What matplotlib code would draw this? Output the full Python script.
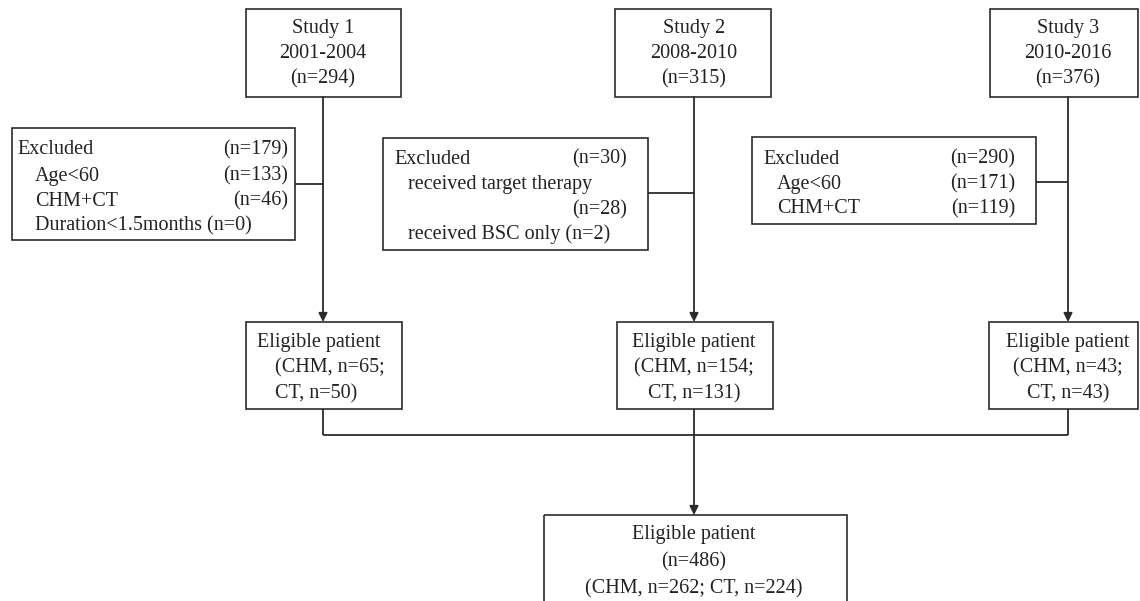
import matplotlib.pyplot as plt
from matplotlib.patches import Rectangle

plt.rcParams['font.family'] = ['Liberation Serif', 'DejaVu Serif']

# Data
study_names = ['Study 1', 'Study 2', 'Study 3']
study_years = ['2001-2004', '2008-2010', '2010-2016']
study_n = [294, 315, 376]
excl_total = [179, 30, 290]
excl1_reasons = ['Age<60', 'CHM+CT', 'Duration<1.5months']
excl1_n = [133, 46, 0]
excl2_reasons = ['received target therapy', 'received BSC only']
excl2_n = [28, 2]
excl3_reasons = ['Age<60', 'CHM+CT']
excl3_n = [171, 119]
elig_chm = [65, 154, 43]
elig_ct = [50, 131, 43]
total_n = 486
total_chm = 262
total_ct = 224

FS = 14.5
LC = '#2b2b2b'
LW = 1.3

fig = plt.figure(figsize=(11.4, 6.01), dpi=100)
ax = fig.add_axes([0, 0, 1, 1])
ax.set_xlim(0, 1140)
ax.set_ylim(601, 0)
ax.axis('off')


def box(x0, y0, x1, y1):
    ax.add_patch(Rectangle((x0, y0), x1 - x0, y1 - y0, fill=False,
                           edgecolor=LC, linewidth=1.2))


def line(xs, ys):
    ax.plot(xs, ys, color=LC, linewidth=LW, solid_capstyle='butt')


def arrow(x, y0, y1):
    ax.annotate('', xy=(x, y1), xytext=(x, y0),
                arrowprops=dict(arrowstyle='-|>', color=LC, lw=LW,
                                mutation_scale=13, shrinkA=0, shrinkB=0))


def txt(x, y, s, ha='center'):
    # small downward nudge so the glyphs sit like the reference
    ax.text(x, y + 2, s, fontsize=FS, ha=ha, va='center', color='#222222')


# columns
cx = [323, 694, 1068]
study_box = [(246, 401), (615, 771), (990, 1138)]
elig_box = [(246, 402), (617, 773), (989, 1138)]

for i in range(3):
    x0, x1 = study_box[i]
    box(x0, 9, x1, 97)
    txt(cx[i], 27, study_names[i])
    txt(cx[i], 52, study_years[i])
    txt(cx[i], 77, '(n=%d)' % study_n[i])
    arrow(cx[i], 97, 322)
    e0, e1 = elig_box[i]
    box(e0, 322, e1, 409)
    line([cx[i], cx[i]], [409, 435])

# eligible texts
txt(257, 341, 'Eligible patient', ha='left')
txt(275, 366, '(CHM, n=%d;' % elig_chm[0], ha='left')
txt(275, 392, 'CT, n=%d)' % elig_ct[0], ha='left')
for i in (1, 2):
    txt(cx[i], 341, 'Eligible patient')
    txt(cx[i], 366, '(CHM, n=%d;' % elig_chm[i])
    txt(cx[i], 392, 'CT, n=%d)' % elig_ct[i])

# excluded 1
box(12, 128, 295, 240)
line([295, cx[0]], [184, 184])
txt(17, 148, 'Excluded', ha='left')
txt(288, 148, '(n=%d)' % excl_total[0], ha='right')
ys = [174, 199, 224]
for k in range(2):
    txt(35, ys[k], excl1_reasons[k], ha='left')
    txt(288, ys[k], '(n=%d)' % excl1_n[k], ha='right')
txt(35, ys[2], '%s (n=%d)' % (excl1_reasons[2], excl1_n[2]), ha='left')

# excluded 2
box(383, 138, 648, 250)
line([648, cx[1]], [193, 193])
txt(394, 157, 'Excluded', ha='left')
txt(627, 157, '(n=%d)' % excl_total[1], ha='right')
txt(408, 183, excl2_reasons[0], ha='left')
txt(627, 208, '(n=%d)' % excl2_n[0], ha='right')
txt(408, 232, '%s (n=%d)' % (excl2_reasons[1], excl2_n[1]), ha='left')

# excluded 3
box(752, 137, 1036, 224)
line([1036, cx[2]], [182, 182])
txt(763, 157, 'Excluded', ha='left')
txt(1015, 157, '(n=%d)' % excl_total[2], ha='right')
for k in range(2):
    txt(777, 182 + 24.5 * k, excl3_reasons[k], ha='left')
    txt(1015, 182 + 24.5 * k, '(n=%d)' % excl3_n[k], ha='right')

# merge line and final box
line([cx[0], cx[2]], [435, 435])
arrow(cx[1], 435, 515)
box(544, 515, 847, 640)
txt(cx[1], 533, 'Eligible patient')
txt(cx[1], 560, '(n=%d)' % total_n)
txt(cx[1], 587, '(CHM, n=%d; CT, n=%d)' % (total_chm, total_ct))

fig.savefig('out.png', dpi=100)
